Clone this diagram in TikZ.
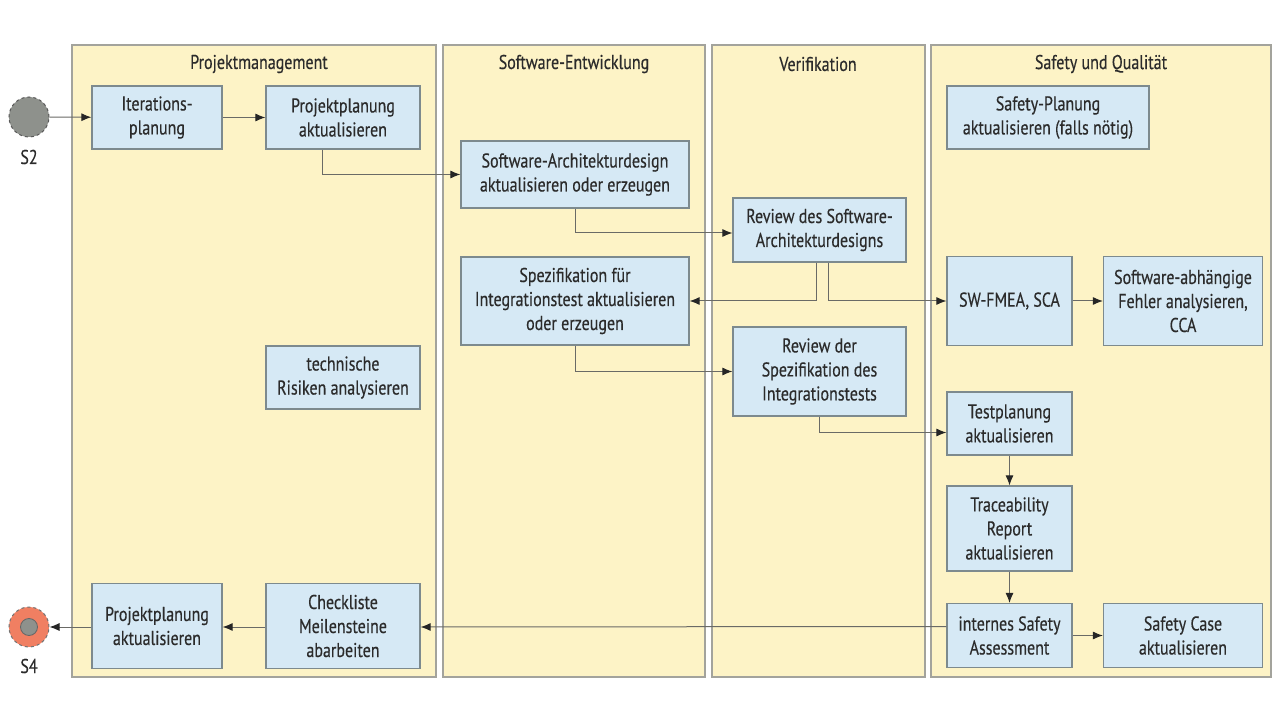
\documentclass[tikz,border=0pt]{standalone}
\usepackage{fontspec}
\setmainfont{PT Sans}[FakeStretch=0.8,FakeBold=0.35]
\usetikzlibrary{arrows.meta,calc}
\definecolor{lanefill}{HTML}{FDF3C6}
\definecolor{laneline}{HTML}{A3A39C}
\definecolor{boxfill}{HTML}{D6E9F5}
\definecolor{boxline}{HTML}{7D8A8E}
\definecolor{txt}{HTML}{2B2B2B}
\definecolor{flowline}{HTML}{6A6A66}
\definecolor{startgray}{HTML}{8E918C}
\definecolor{endfill}{HTML}{F07F62}
\begin{document}
\begin{tikzpicture}[x=1pt,y=-1pt,
  lane/.style={draw=laneline,line width=1.4pt,fill=lanefill},
  lanetitle/.style={font=\fontsize{20}{22}\selectfont,text=txt,inner sep=0},
  box/.style={draw=boxline,line width=1.2pt,fill=boxfill,align=center,inner sep=2pt,
    font=\fontsize{20}{24}\selectfont,text=txt},
  flow/.style={draw=flowline,line width=1pt,-{Latex[length=10pt,width=8pt,color=black!85]}},
  evlabel/.style={font=\fontsize{20}{22}\selectfont,text=txt,inner sep=0}]
\useasboundingbox[fill=white] (0,0) rectangle (1280,719);
% lanes
\path[lane] (72,45) rectangle (436,677);
\path[lane] (443,45) rectangle (705,677);
\path[lane] (712,45) rectangle (925,677);
\path[lane] (931,45) rectangle (1271,677);
\node[lanetitle] (t1) at (259,64) {Projektmanagement};
\node[lanetitle] (t2) at (574,64) {Software-Entwicklung};
\node[lanetitle] (t3) at (818,64) {Verifikation};
\node[lanetitle] (t4) at (1101,64) {Safety und Qualität};
% events
\node[circle,draw=black!65,dashed,line width=1pt,fill=startgray,minimum size=40pt,inner sep=0] (s2) at (29,117) {};
\node[evlabel] (s2l) at (29,157) {S2};
\node[circle,draw=black!55,dashed,line width=1pt,fill=endfill,minimum size=40pt,inner sep=0] (s4) at (29,627) {};
\node[circle,draw=black!60,line width=0.8pt,fill=startgray,minimum size=17pt,inner sep=0] (s4i) at (29,627) {};
\node[evlabel] (s4l) at (29,666) {S4};
% boxes
\node[box,minimum width=130,minimum height=63] (iter) at (157,117.5) {Iterations-\\planung};
\node[box,minimum width=154,minimum height=63] (ppa) at (343,117.5) {Projektplanung\\aktualisieren};
\node[box,minimum width=154,minimum height=63] (tech) at (343,377.5) {technische\\Risiken analysieren};
\node[box,minimum width=130,minimum height=85] (ppb) at (157,626) {Projektplanung\\aktualisieren};
\node[box,minimum width=154,minimum height=85] (chk) at (343,626) {Checkliste\\Meilensteine\\abarbeiten};
\node[box,minimum width=228,minimum height=67] (swa) at (575,174.5) {Software-Architekturdesign\\aktualisieren oder erzeugen};
\node[box,minimum width=228,minimum height=88] (spz) at (575,301) {Spezifikation für\\Integrationstest aktualisieren\\oder erzeugen};
\node[box,minimum width=173,minimum height=64] (rsa) at (819.5,230) {Review des Software-\\Architekturdesigns};
\node[box,minimum width=173,minimum height=89] (rsp) at (819.5,371.5) {Review der\\Spezifikation des\\Integrationstests};
\node[box,minimum width=202,minimum height=63] (sfp) at (1048,117.5) {Safety-Planung\\aktualisieren (falls nötig)};
\node[box,minimum width=125,minimum height=89] (fmea) at (1009.5,301) {SW-FMEA, SCA};
\node[box,minimum width=159,minimum height=89] (sab) at (1183,301) {Software-abhängige\\Fehler analysieren,\\CCA};
\node[box,minimum width=125,minimum height=63] (tpl) at (1009.5,423.5) {Testplanung\\aktualisieren};
\node[box,minimum width=125,minimum height=85] (trc) at (1009.5,528.5) {Traceability\\Report\\aktualisieren};
\node[box,minimum width=125,minimum height=64] (isa) at (1009.5,635.5) {internes Safety\\Assessment};
\node[box,minimum width=159,minimum height=64] (sca) at (1183,635.5) {Safety Case\\aktualisieren};
% connectors
\draw[flow] (s2) -- (iter);
\draw[flow] (iter) -- (ppa);
\draw[flow] ([xshift=-21pt]ppa.south) |- (swa.west);
\draw[flow] (swa.south) |- ([yshift=-3pt]rsa.west);
\draw[flow] ([xshift=-3pt]rsa.south) |- (spz.east);
\draw[flow] ([xshift=9pt]rsa.south) |- (fmea.west);
\draw[flow] (spz.south) |- (rsp.west);
\draw[flow] (rsp.south) |- ([yshift=-9pt]tpl.west);
\draw[flow] (fmea) -- (sab);
\draw[flow] (tpl) -- (trc);
\draw[flow] (trc) -- (isa);
\draw[flow] (isa) -- (sca);
\draw[flow] ([yshift=9pt]isa.west) -- ([yshift=-1pt]chk.east);
\draw[flow] ([yshift=-1pt]chk.west) -- ([yshift=-1pt]ppb.east);
\draw[flow] ([yshift=-1pt]ppb.west) -- (s4);
\end{tikzpicture}
\end{document}
